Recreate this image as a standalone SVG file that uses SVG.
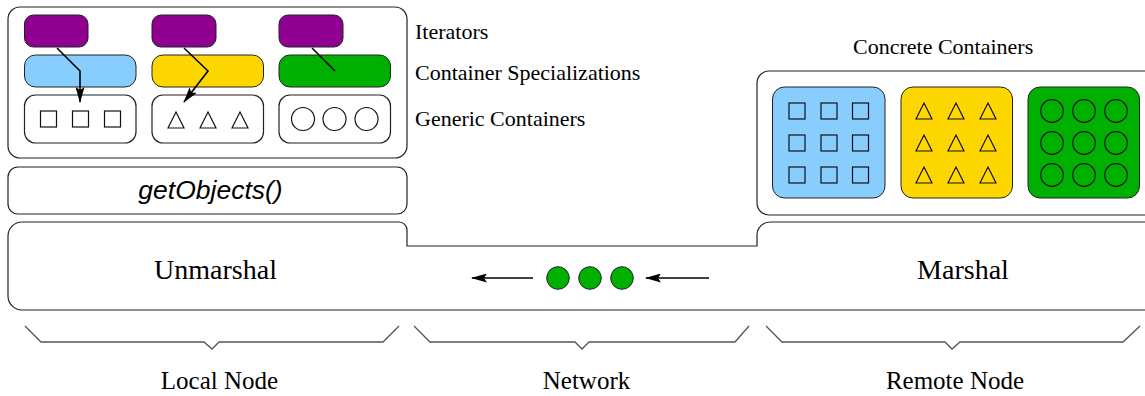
<svg xmlns="http://www.w3.org/2000/svg" width="1145" height="396" viewBox="0 0 1145 396">
<style>
.box{fill:#fff;stroke:#222;stroke-width:1.2}
.sh{fill:none;stroke:#111;stroke-width:1.2}
.it{fill:#900090;stroke:#222;stroke-width:1}
.blue{fill:#87ceff;stroke:#222;stroke-width:1}
.gold{fill:#ffd700;stroke:#222;stroke-width:1}
.green{fill:#00b000;stroke:#222;stroke-width:1}
.lbl{font-family:"Liberation Serif",serif;font-size:22px;fill:#000}
.big{font-family:"Liberation Serif",serif;font-size:28px;fill:#000;text-anchor:middle}
.node{font-family:"Liberation Serif",serif;font-size:25px;fill:#000;text-anchor:middle}
.brace{fill:none;stroke:#555;stroke-width:1.3}
.conn{fill:none;stroke:#000;stroke-width:1.6}
</style>
<defs>
<marker id="ah" viewBox="0 0 16 9" refX="15" refY="4.5" markerWidth="16" markerHeight="9" markerUnits="userSpaceOnUse" orient="auto">
<path d="M0,0 L16,4.5 L0,9 L3,4.5 Z" fill="#000"/>
</marker>
</defs>

<g id="local-containers">
<rect class="box" x="8" y="7" width="399" height="151" rx="12"/>
<rect class="it" x="24.5" y="15" width="63.5" height="32" rx="9"/>
<rect class="it" x="152" y="15" width="64" height="32" rx="9"/>
<rect class="it" x="279" y="15" width="64" height="32" rx="9"/>
<rect class="blue" x="24.5" y="55" width="111.5" height="32" rx="11"/>
<rect class="gold" x="152" y="55" width="111.5" height="32" rx="11"/>
<rect class="green" x="279" y="55" width="111.5" height="32" rx="11"/>
<rect class="box" x="24.5" y="95" width="111.5" height="48" rx="11"/>
<rect class="box" x="152" y="95" width="111.5" height="48" rx="11"/>
<rect class="box" x="279" y="95" width="111.5" height="48" rx="11"/>
<g class="sh">
<rect x="40.5" y="111" width="16" height="16"/>
<rect x="72.5" y="111" width="16" height="16"/>
<rect x="104.5" y="111" width="16" height="16"/>
<path d="M168,128 L176,112 L184,128 Z"/>
<path d="M200,128 L208,112 L216,128 Z"/>
<path d="M232,128 L240,112 L248,128 Z"/>
<circle cx="303" cy="119" r="11.5"/>
<circle cx="334.5" cy="119" r="11.5"/>
<circle cx="366.5" cy="119" r="11.5"/>
</g>
</g>

<g id="getobjects">
<rect class="box" x="8" y="167" width="399" height="47" rx="10"/>
<text x="210.5" y="199" font-family="Liberation Sans,Arial,sans-serif" font-style="italic" font-size="26.5" text-anchor="middle">getObjects()</text>
</g>

<g id="labels">
<text class="lbl" x="415" y="39">Iterators</text>
<text class="lbl" x="415" y="80">Container Specializations</text>
<text class="lbl" x="415" y="126">Generic Containers</text>
<text class="lbl" x="853" y="54">Concrete Containers</text>
</g>

<g id="concrete-containers">
<rect class="box" x="757" y="71" width="420" height="144" rx="12"/>
<rect class="blue" x="772.5" y="87" width="112.5" height="111" rx="12"/>
<rect class="gold" x="901" y="87" width="111.5" height="111" rx="12"/>
<rect class="green" x="1028" y="87" width="111.5" height="111" rx="12"/>
<g class="sh">
<rect x="789" y="103" width="16" height="16"/>
<rect x="821" y="103" width="16" height="16"/>
<rect x="852.5" y="103" width="16" height="16"/>
<rect x="789" y="135" width="16" height="16"/>
<rect x="821" y="135" width="16" height="16"/>
<rect x="852.5" y="135" width="16" height="16"/>
<rect x="789" y="167" width="16" height="16"/>
<rect x="821" y="167" width="16" height="16"/>
<rect x="852.5" y="167" width="16" height="16"/>
<path d="M916,119 L924,103 L932,119 Z M948,119 L956,103 L964,119 Z M980,119 L988,103 L996,119 Z"/>
<path d="M916,151 L924,135 L932,151 Z M948,151 L956,135 L964,151 Z M980,151 L988,135 L996,151 Z"/>
<path d="M916,183 L924,167 L932,183 Z M948,183 L956,167 L964,183 Z M980,183 L988,167 L996,183 Z"/>
<circle cx="1052" cy="111" r="11.3"/>
<circle cx="1084" cy="111" r="11.3"/>
<circle cx="1116" cy="111" r="11.3"/>
<circle cx="1052" cy="143" r="11.3"/>
<circle cx="1084" cy="143" r="11.3"/>
<circle cx="1116" cy="143" r="11.3"/>
<circle cx="1052" cy="175" r="11.3"/>
<circle cx="1084" cy="175" r="11.3"/>
<circle cx="1116" cy="175" r="11.3"/>
</g>
</g>

<g id="marshal-layer">
<path class="box" d="M1160,222 H770 A13,13 0 0 0 757,235 V246 H407 V230 A8,8 0 0 0 399,222 H22 A14,14 0 0 0 8,236 V296 A14,14 0 0 0 22,310 H1160"/>
<text class="big" x="215.5" y="279">Unmarshal</text>
<text class="big" x="963" y="279">Marshal</text>
<circle class="green" cx="558" cy="278" r="11.3"/>
<circle class="green" cx="590" cy="278" r="11.3"/>
<circle class="green" cx="622" cy="278" r="11.3"/>
</g>

<g id="connectors">
<path class="conn" d="M57,48 L80,71 L80,102" marker-end="url(#ah)"/>
<path class="conn" d="M184,48 L208,71 L184,102" marker-end="url(#ah)"/>
<path class="conn" d="M312,48 L335,71"/>
<path class="conn" d="M533,278 L472,278" marker-end="url(#ah)"/>
<path class="conn" d="M709,278 L646,278" marker-end="url(#ah)"/>
</g>

<g id="braces">
<path class="brace" d="M25,326 L41,342 L204,342 L212,349 L219,342 L383,342 L399,326"/>
<path class="brace" d="M414,326 L430,342 L575,342 L582,349 L589,342 L735,342 L749,326"/>
<path class="brace" d="M766,326 L782,342 L945,342 L952,349 L960,342 L1123,342 L1140,326"/>
<text class="node" x="219.5" y="389">Local Node</text>
<text class="node" x="586.5" y="389">Network</text>
<text class="node" x="955" y="389">Remote Node</text>
</g>
</svg>
